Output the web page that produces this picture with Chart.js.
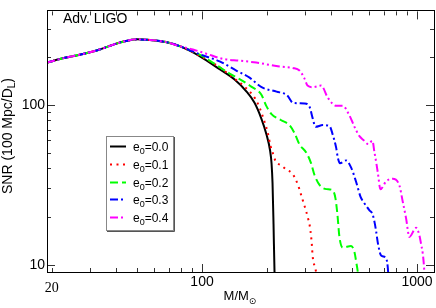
<!DOCTYPE html>
<html><head><meta charset="utf-8">
<script src="https://cdn.jsdelivr.net/npm/chart.js@4"></script>
<style>html,body{margin:0;padding:0;background:#fff}#wrap{width:436px;height:308px;position:relative}</style>
</head><body><div id="wrap"><canvas id="c" width="436" height="308"></canvas></div>
<script>
// ---------- data ----------
const eccentricities = ['0.0', '0.1', '0.2', '0.3', '0.4'];

// shared rising part of all curves (M/Msun, SNR)
const commonMass = [19.0, 23.0, 27.0, 33.4, 39.3, 43.7, 49.7, 57.1, 67.0, 78.7];
const commonSnr  = [184, 197, 206, 222, 240, 250, 257, 255, 248, 233];

const massE00 = [97.4, 120.7, 141.7, 161.1, 175.5, 188.6, 199.6, 207.2, 210.6, 212.8, 215.1, 217.4, 218.0];
const snrE00  = [202, 167, 144, 121, 103, 82.3, 65.0, 52.0, 42.9, 32.4, 17.9, 9.0, 8.5];

const massE01 = [97.4, 120.7, 134.3, 160.6, 175.5, 185.2, 195.4, 202.4, 208.3, 212.8, 219.8, 233.6, 246.4, 262.7, 272.2, 280.2, 286.2, 292.4, 298.7, 305.2, 310.5, 316.2, 319.6, 322.0, 324.1, 325.5, 327.5, 337.2, 340.8];
const snrE01  = [203, 172, 154, 127, 111, 96.3, 78.2, 66.6, 55.2, 50.6, 44.5, 41.8, 39.4, 37.3, 34.3, 31.3, 28.5, 26.0, 23.7, 21.6, 19.7, 17.9, 16.2, 14.8, 13.5, 12.3, 11.1, 9.38, 8.75];

const massE02 = [97.4, 112.0, 134.3, 152.2, 169.4, 188.6, 199.0, 209.9, 233.6, 255.3, 269.3, 284.0, 305.1, 322.0, 333.6, 351.9, 379.3, 404.4, 417.6, 426.6, 435.8, 451.4, 494.0, 511.7, 522.8, 530.2, 532.5];
const snrE02  = [206, 184, 157, 143, 130, 116, 98.6, 87.9, 80.1, 74.7, 66.6, 56.6, 50.4, 42.9, 36.4, 31.6, 29.7, 29.3, 26.0, 20.5, 14.9, 12.8, 13.1, 12.0, 10.2, 9.04, 8.5];

const massE03 = [97.4, 120.7, 144.3, 166.4, 189.2, 222.1, 248.5, 265.0, 299.7, 316.2, 327.5, 337.2, 364.6, 391.5, 405.7, 420.7, 428.0, 438.2, 468.1, 494.0, 521.2, 545.8, 563.5, 600.9, 620.4, 633.9, 645.5, 658.1, 681.1, 718.4, 730.8, 734.0, 736.0];
const snrE03  = [207.5, 187, 164, 148, 129, 121, 115, 103, 102, 97.3, 82.0, 72.9, 74.7, 73.7, 65.0, 54.0, 47.0, 43.1, 44.9, 40.5, 32.9, 26.7, 24.7, 21.9, 20.8, 18.6, 16.2, 13.6, 11.4, 11.0, 9.72, 9.04, 8.5];

const massE04 = [90.7, 104.7, 125.0, 149.5, 178.7, 206.1, 229.4, 264.5, 284.0, 299.7, 309.5, 327.5, 358.4, 384.6, 420.7, 451.4, 485.1, 511.7, 539.9, 563.5, 594.3, 620.4, 633.9, 647.6, 658.1, 675.9, 718.4, 770.9, 828.3, 858.0, 889.8, 921.9, 990.1, 1025.6, 1044.5, 1062.6, 1074.0, 1082.1, 1086.0];
const snrE04  = [222, 209, 194, 189, 184, 178, 174, 170, 164, 146, 132, 129, 132, 111, 98.6, 98.6, 85.8, 72.9, 63.7, 60.2, 56.8, 59.6, 50.6, 42.9, 37.3, 29.7, 33.2, 34.5, 31.3, 24.9, 19.5, 14.9, 17.0, 15.3, 13.5, 11.9, 10.4, 9.04, 8.5];

const xTickValues = [20, 30, 40, 50, 60, 70, 80, 90, 100, 200, 300, 400, 500, 600, 700, 800, 900, 1000];
const xTickLabels = [20, 100, 1000];
const yTickValues = [10, 20, 30, 40, 50, 60, 70, 80, 90, 100, 200, 300];
const yTickLabels = [10, 100];

// ---------- styles ----------
const seriesMass = [massE00, massE01, massE02, massE03, massE04];
const seriesSnr  = [snrE00, snrE01, snrE02, snrE03, snrE04];
const seriesColors = ['#000000', '#ff0000', '#00ff00', '#0000ff', '#ff00ff'];
const seriesDash = [[], [2, 4.5], [8, 4], [8, 3, 2, 3], [8, 3, 2, 3, 2, 3]];
const SANS = '"Liberation Sans", Arial, Helvetica, sans-serif';
const SERIF = '"Liberation Serif", "Times New Roman", serif';

const datasets = eccentricities.map((e, i) => {
  const m = commonMass.concat(seriesMass[i]);
  const s = commonSnr.concat(seriesSnr[i]);
  return {
    label: 'e0=' + e,
    ecc: e,
    data: m.map((mv, j) => ({ x: mv, y: s[j] })),
    borderColor: seriesColors[i],
    backgroundColor: seriesColors[i],
    borderWidth: 2,
    borderDash: seriesDash[i],
    pointRadius: 0,
    showLine: true,
    cubicInterpolationMode: 'monotone',
    fill: false,
    order: eccentricities.length - i
  };
});

function isDecade(v) { const l = Math.log10(v); return Math.abs(l - Math.round(l)) < 1e-9; }

function drawSubText(ctx, x, y, parts) {
  let cx = x;
  parts.forEach(p => {
    ctx.font = p[1] + 'px ' + (p[3] || SANS);
    ctx.fillText(p[0], cx, y + p[2]);
    cx += ctx.measureText(p[0]).width;
  });
  return cx - x;
}
function measureSubText(ctx, parts) {
  let w = 0;
  parts.forEach(p => { ctx.font = p[1] + 'px ' + (p[3] || SANS); w += ctx.measureText(p[0]).width; });
  return w;
}

const decor = {
  id: 'decor',
  afterDraw(chart) {
    const { ctx, chartArea: a } = chart;
    const xs = chart.scales.x, ys = chart.scales.y;
    ctx.save();
    ctx.lineWidth = 1;
    ctx.strokeStyle = '#333';
    ctx.beginPath();
    xs.ticks.forEach(t => {
      const p = Math.round(xs.getPixelForValue(t.value)) + 0.5;
      const len = isDecade(t.value) ? 8 : 4;
      ctx.moveTo(p, a.bottom); ctx.lineTo(p, a.bottom - len);
      ctx.moveTo(p, a.top + 1); ctx.lineTo(p, a.top + 1 + len);
    });
    ys.ticks.forEach(t => {
      const p = Math.round(ys.getPixelForValue(t.value)) + 0.5;
      const len = isDecade(t.value) ? 8 : 4;
      ctx.moveTo(a.left, p); ctx.lineTo(a.left + len, p);
      ctx.moveTo(a.right, p); ctx.lineTo(a.right - len, p);
    });
    ctx.stroke();
    ctx.strokeStyle = '#000';
    ctx.strokeRect(Math.round(a.left) + 0.5, Math.round(a.top) + 0.5,
      Math.round(a.right) - Math.round(a.left), Math.round(a.bottom) - Math.round(a.top));

    ctx.fillStyle = '#000';
    ctx.textBaseline = 'alphabetic';
    ctx.textAlign = 'left';
    ctx.font = '14px ' + SANS;
    ctx.fillText('Adv. LIGO', 63, 22.5);

    const xt = [['M/M', 13, 0], ['\u2299', 9, 4, '"DejaVu Sans", sans-serif']];
    const xw = measureSubText(ctx, xt);
    drawSubText(ctx, 240 - xw / 2, 299.5, xt);

    const yt = [['SNR (100 Mpc/D', 14, 0], ['L', 10, 3], [')', 14, 0]];
    const yw = measureSubText(ctx, yt);
    ctx.save();
    ctx.translate(12, 136);
    ctx.rotate(-Math.PI / 2);
    drawSubText(ctx, -yw / 2, 0, yt);
    ctx.restore();

    const L = { x: 106, y: 136, w: 67, h: 94, row0: 146, step: 17.8, l0: 110, l1: 126, tx: 133 };
    ctx.fillStyle = '#fff';
    ctx.fillRect(L.x, L.y, L.w, L.h);
    ctx.strokeStyle = '#888';
    ctx.strokeRect(L.x + 0.5, L.y + 0.5, L.w, L.h);
    ctx.strokeStyle = '#555';
    ctx.beginPath();
    ctx.moveTo(L.x + L.w + 1.5, L.y + 1); ctx.lineTo(L.x + L.w + 1.5, L.y + L.h + 1.5);
    ctx.lineTo(L.x + 1, L.y + L.h + 1.5);
    ctx.stroke();
    chart.data.datasets.forEach((d, i) => {
      const yy = Math.round(L.row0 + i * L.step) + 0.5;
      ctx.strokeStyle = d.borderColor;
      ctx.lineWidth = 2;
      ctx.setLineDash(d.borderDash);
      ctx.beginPath(); ctx.moveTo(L.l0, yy); ctx.lineTo(L.l1, yy); ctx.stroke();
      ctx.setLineDash([]);
      ctx.fillStyle = '#000';
      drawSubText(ctx, L.tx, yy + 4, [['e', 12, 0], ['0', 9, 3], ['=' + d.ecc, 12, 0]]);
    });
    ctx.restore();
  }
};

new Chart(document.getElementById('c'), {
  type: 'scatter',
  data: { datasets },
  plugins: [decor],
  options: {
    responsive: false,
    devicePixelRatio: 1,
    animation: false,
    events: [],
    layout: { padding: { top: 1, right: 2, left: 0, bottom: 0 }, autoPadding: false },
    plugins: { legend: { display: false }, tooltip: { enabled: false } },
    scales: {
      x: {
        type: 'logarithmic', min: 19, max: 1200,
        afterFit(s) { s.height = 36; },
        afterBuildTicks(s) { s.ticks = xTickValues.map(v => ({ value: v })); },
        grid: { display: false, drawTicks: false },
        border: { display: false },
        ticks: {
          autoSkip: false, maxRotation: 0, minRotation: 0, padding: 2, color: '#000',
          font: (c) => (c.tick && c.tick.value === 20)
            ? { family: SERIF, size: 14, lineHeight: 2.1 }
            : { family: SANS, size: 14, lineHeight: 1.2 },
          callback: (v) => xTickLabels.includes(v) ? String(v) : ''
        }
      },
      y: {
        type: 'logarithmic', min: 9, max: 390,
        afterFit(s) { s.width = 47; },
        afterBuildTicks(s) { s.ticks = yTickValues.map(v => ({ value: v })); },
        grid: { display: false, drawTicks: false },
        border: { display: false },
        ticks: {
          autoSkip: false, padding: 2, color: '#000',
          font: { family: SANS, size: 14 },
          callback: (v) => yTickLabels.includes(v) ? String(v) : ''
        }
      }
    }
  }
});
</script>
</body></html>
